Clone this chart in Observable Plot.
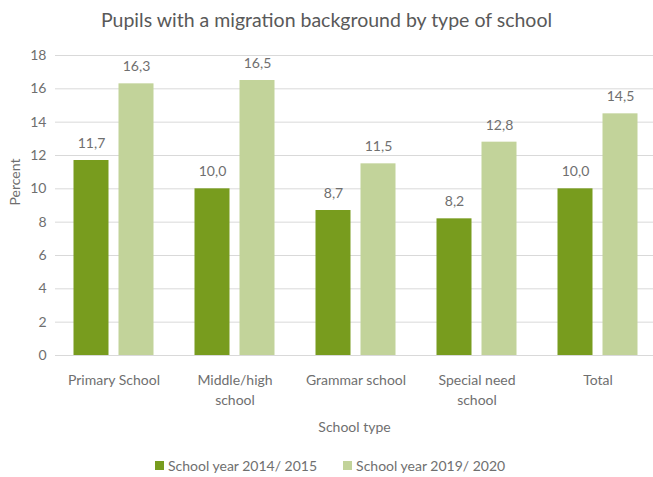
<!DOCTYPE html>
<html>
<head>
<meta charset="utf-8">
<script src="https://cdn.jsdelivr.net/npm/d3@7"></script>
<script src="https://cdn.jsdelivr.net/npm/@observablehq/plot@0.6"></script>
<style>
  html, body { margin: 0; padding: 0; background: #fff; }
  body { width: 653px; height: 477px; position: relative; overflow: hidden; font-family: Lato, "Open Sans", sans-serif; }
  #title { position: absolute; left: 0; top: 7px; width: 653px; text-align: center; font-size: 19.5px; color: #595959; line-height: 26px; }
  #chart { position: absolute; left: 0; top: 40px; }
  #legend { position: absolute; left: 155px; top: 456px; height: 18px; display: flex; align-items: center; font-size: 14px; color: #6f6f6f; }
  .sw { width: 9px; height: 9px; display: inline-block; margin-right: 4px; }
  .item { display: flex; align-items: center; margin-right: 26px; }
</style>
</head>
<body>
<div id="title">Pupils with a migration background by type of school</div>
<div id="chart"></div>
<div id="legend"></div>
<script>
const categories = ["Primary School", "Middle/high school", "Grammar school", "Special need school", "Total"];
const tickLabels = ["Primary School", "Middle/high\nschool", "Grammar school", "Special need\nschool", "Total"];
const series = ["School year 2014/ 2015", "School year 2019/ 2020"];
const values2014 = [11.7, 10.0, 8.7, 8.2, 10.0];
const values2019 = [16.3, 16.5, 11.5, 12.8, 14.5];
const yTicks = [0, 2, 4, 6, 8, 10, 12, 14, 16, 18];
const colors = ["#789c1e", "#c2d39a"];

const fmt = v => v.toFixed(1).replace(".", ",");
const d2014 = categories.map((c, i) => ({cat: c, value: values2014[i]}));
const d2019 = categories.map((c, i) => ({cat: c, value: values2019[i]}));
const labelData = categories.map((c, i) => ({cat: c, label: tickLabels[i]}));
const textColor = "#6f6f6f";
const fs = 14;

const chart = Plot.plot({
  width: 653,
  height: 408,
  marginLeft: 55,
  marginRight: 0,
  marginTop: 15,
  marginBottom: 93,
  style: {fontFamily: "Lato, 'Open Sans', sans-serif", fontSize: fs + "px", color: textColor, background: "#fff"},
  x: {type: "band", domain: categories, range: [52.5, 657.5], paddingInner: 0, paddingOuter: 0, axis: null},
  y: {domain: [0, 18], axis: null},
  marks: [
    Plot.ruleY(yTicks, {stroke: "#d9d9d9", strokeWidth: 1}),
    Plot.axisY(yTicks, {tickSize: 0, tickPadding: 9, label: null, fontSize: fs, fill: textColor}),
    Plot.barY(d2014, {x: "cat", y: "value", fill: colors[0], insetLeft: 20.5, insetRight: 65.5}),
    Plot.barY(d2019, {x: "cat", y: "value", fill: colors[1], insetLeft: 65.5, insetRight: 20.5}),
    Plot.text(d2014, {x: "cat", y: "value", text: d => fmt(d.value), dx: -22.5, dy: -17, fill: textColor, fontSize: fs}),
    Plot.text(d2019, {x: "cat", y: "value", text: d => fmt(d.value), dx: 22.5, dy: -17, fill: textColor, fontSize: fs}),
    Plot.text(labelData, {x: "cat", text: "label", frameAnchor: "bottom", lineAnchor: "top", dy: 16, lineHeight: 1.4, fill: textColor, fontSize: fs}),
    Plot.text(["School type"], {frameAnchor: "bottom", lineAnchor: "middle", dy: 72, fill: textColor, fontSize: fs}),
    Plot.text(["Percent"], {frameAnchor: "left", rotate: -90, dx: -40, fill: textColor, fontSize: fs})
  ]
});
document.getElementById("chart").appendChild(chart);

const legend = document.getElementById("legend");
series.forEach((s, i) => {
  const item = document.createElement("div");
  item.className = "item";
  const sw = document.createElement("span");
  sw.className = "sw";
  sw.style.background = colors[i];
  item.appendChild(sw);
  item.appendChild(document.createTextNode(s));
  legend.appendChild(item);
});
</script>
</body>
</html>
